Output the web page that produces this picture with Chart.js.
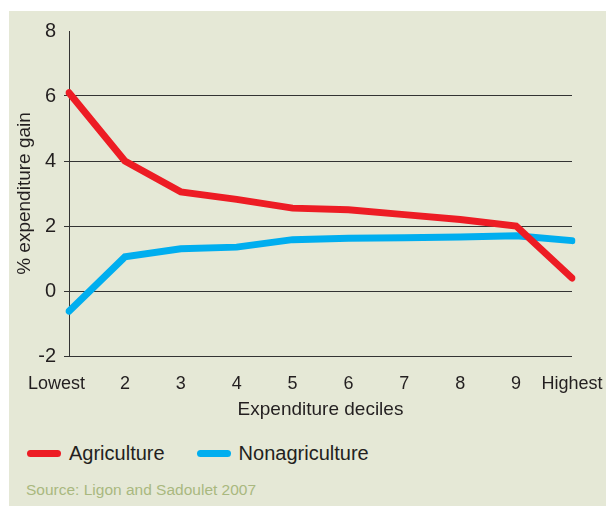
<!DOCTYPE html>
<html>
<head>
<meta charset="utf-8">
<script src="https://cdn.jsdelivr.net/npm/chart.js@4.4.1/dist/chart.umd.min.js"></script>
<style>
  html, body { margin: 0; padding: 0; background: #ffffff; }
  #panel {
    position: absolute; left: 9px; top: 11px; width: 597px; height: 495px;
    background: #e5e8d6; font-family: "Liberation Sans", Arial, sans-serif;
  }
  #chartWrap { position: absolute; left: 0; top: 0; width: 597px; height: 420px; }
  #legend {
    position: absolute; left: 18px; top: 429px; height: 26px;
    display: flex; align-items: center; font-size: 20px; color: #231f20;
  }
  .item { display: flex; align-items: center; margin-right: 32px; }
  .swatch { width: 34px; height: 7px; border-radius: 4px; margin-right: 8px; }
  #source {
    position: absolute; left: 17px; top: 470px; font-size: 15.5px; color: #a9b87f;
  }
</style>
</head>
<body>
<div id="panel">
  <div id="chartWrap"><canvas id="gainChart"></canvas></div>
  <div id="legend"></div>
  <div id="source">Source: Ligon and Sadoulet 2007</div>
</div>
<script>
const deciles = ['Lowest', '2', '3', '4', '5', '6', '7', '8', '9', 'Highest'];
const agriculture = [6.1, 4.0, 3.05, 2.82, 2.55, 2.5, 2.35, 2.2, 2.0, 0.4];
const nonagriculture = [-0.62, 1.05, 1.3, 1.35, 1.58, 1.62, 1.64, 1.66, 1.7, 1.55];
const yTicks = [-2, 0, 2, 4, 6, 8];

const font = 'Liberation Sans, Arial, sans-serif';
const ink = '#231f20';

const ctx = document.getElementById('gainChart').getContext('2d');
const gainChart = new Chart(ctx, {
    type: 'line',
    data: {
        labels: deciles,
        datasets: [{
            label: 'Agriculture',
            data: agriculture,
            borderColor: '#ed1c24',
            backgroundColor: '#ed1c24',
            borderWidth: 7,
            borderCapStyle: 'round',
            pointRadius: 0,
            tension: 0
        }, {
            label: 'Nonagriculture',
            data: nonagriculture,
            borderColor: '#00aeef',
            backgroundColor: '#00aeef',
            borderWidth: 7,
            borderCapStyle: 'round',
            pointRadius: 0,
            tension: 0
        }]
    },
    options: {
        responsive: true,
        maintainAspectRatio: false,
        animation: false,
        layout: { padding: { left: 0, right: 34, top: 15, bottom: 0 } },
        plugins: {
            legend: { display: false },
            tooltip: { enabled: false }
        },
        scales: {
            x: {
                offset: false,
                grid: { display: false, drawTicks: false },
                border: { display: false },
                ticks: {
                    color: ink,
                    font: { family: font, size: 18 },
                    padding: 17,
                    maxRotation: 0,
                    autoSkip: false,
                    // trailing spaces nudge "Lowest" left of the axis
                    callback: (v, i) => i === 0 ? deciles[i] + '     ' : deciles[i]
                },
                title: {
                    display: true,
                    text: 'Expenditure deciles',
                    color: ink,
                    font: { family: font, size: 19 },
                    padding: { top: 4, bottom: 10 }
                },
                afterFit: (scale) => {
                    scale.height = 75;
                    scale.paddingLeft = 0;
                    scale.paddingRight = 0;
                }
            },
            y: {
                min: -2,
                max: 8,
                afterBuildTicks: (scale) => { scale.ticks = yTicks.map(v => ({ value: v })); },
                grid: {
                    color: (c) => c.tick && c.tick.value === 8 ? 'rgba(0,0,0,0)' : '#333333',
                    lineWidth: 1,
                    tickLength: 5
                },
                border: { display: true, color: '#333333', width: 1 },
                ticks: { color: ink, font: { family: font, size: 20 }, padding: 8 },
                title: {
                    display: true,
                    text: '% expenditure gain',
                    color: ink,
                    font: { family: font, size: 19 },
                    padding: { top: 4, bottom: 4 }
                },
                afterFit: (scale) => { scale.width = 60; }
            }
        }
    }
});

// legend built from the chart's own datasets
const legendEl = document.getElementById('legend');
gainChart.data.datasets.forEach(ds => {
    const item = document.createElement('div');
    item.className = 'item';
    const sw = document.createElement('span');
    sw.className = 'swatch';
    sw.style.background = ds.borderColor;
    const txt = document.createElement('span');
    txt.innerText = ds.label;
    item.appendChild(sw);
    item.appendChild(txt);
    legendEl.appendChild(item);
});
</script>
</body>
</html>
